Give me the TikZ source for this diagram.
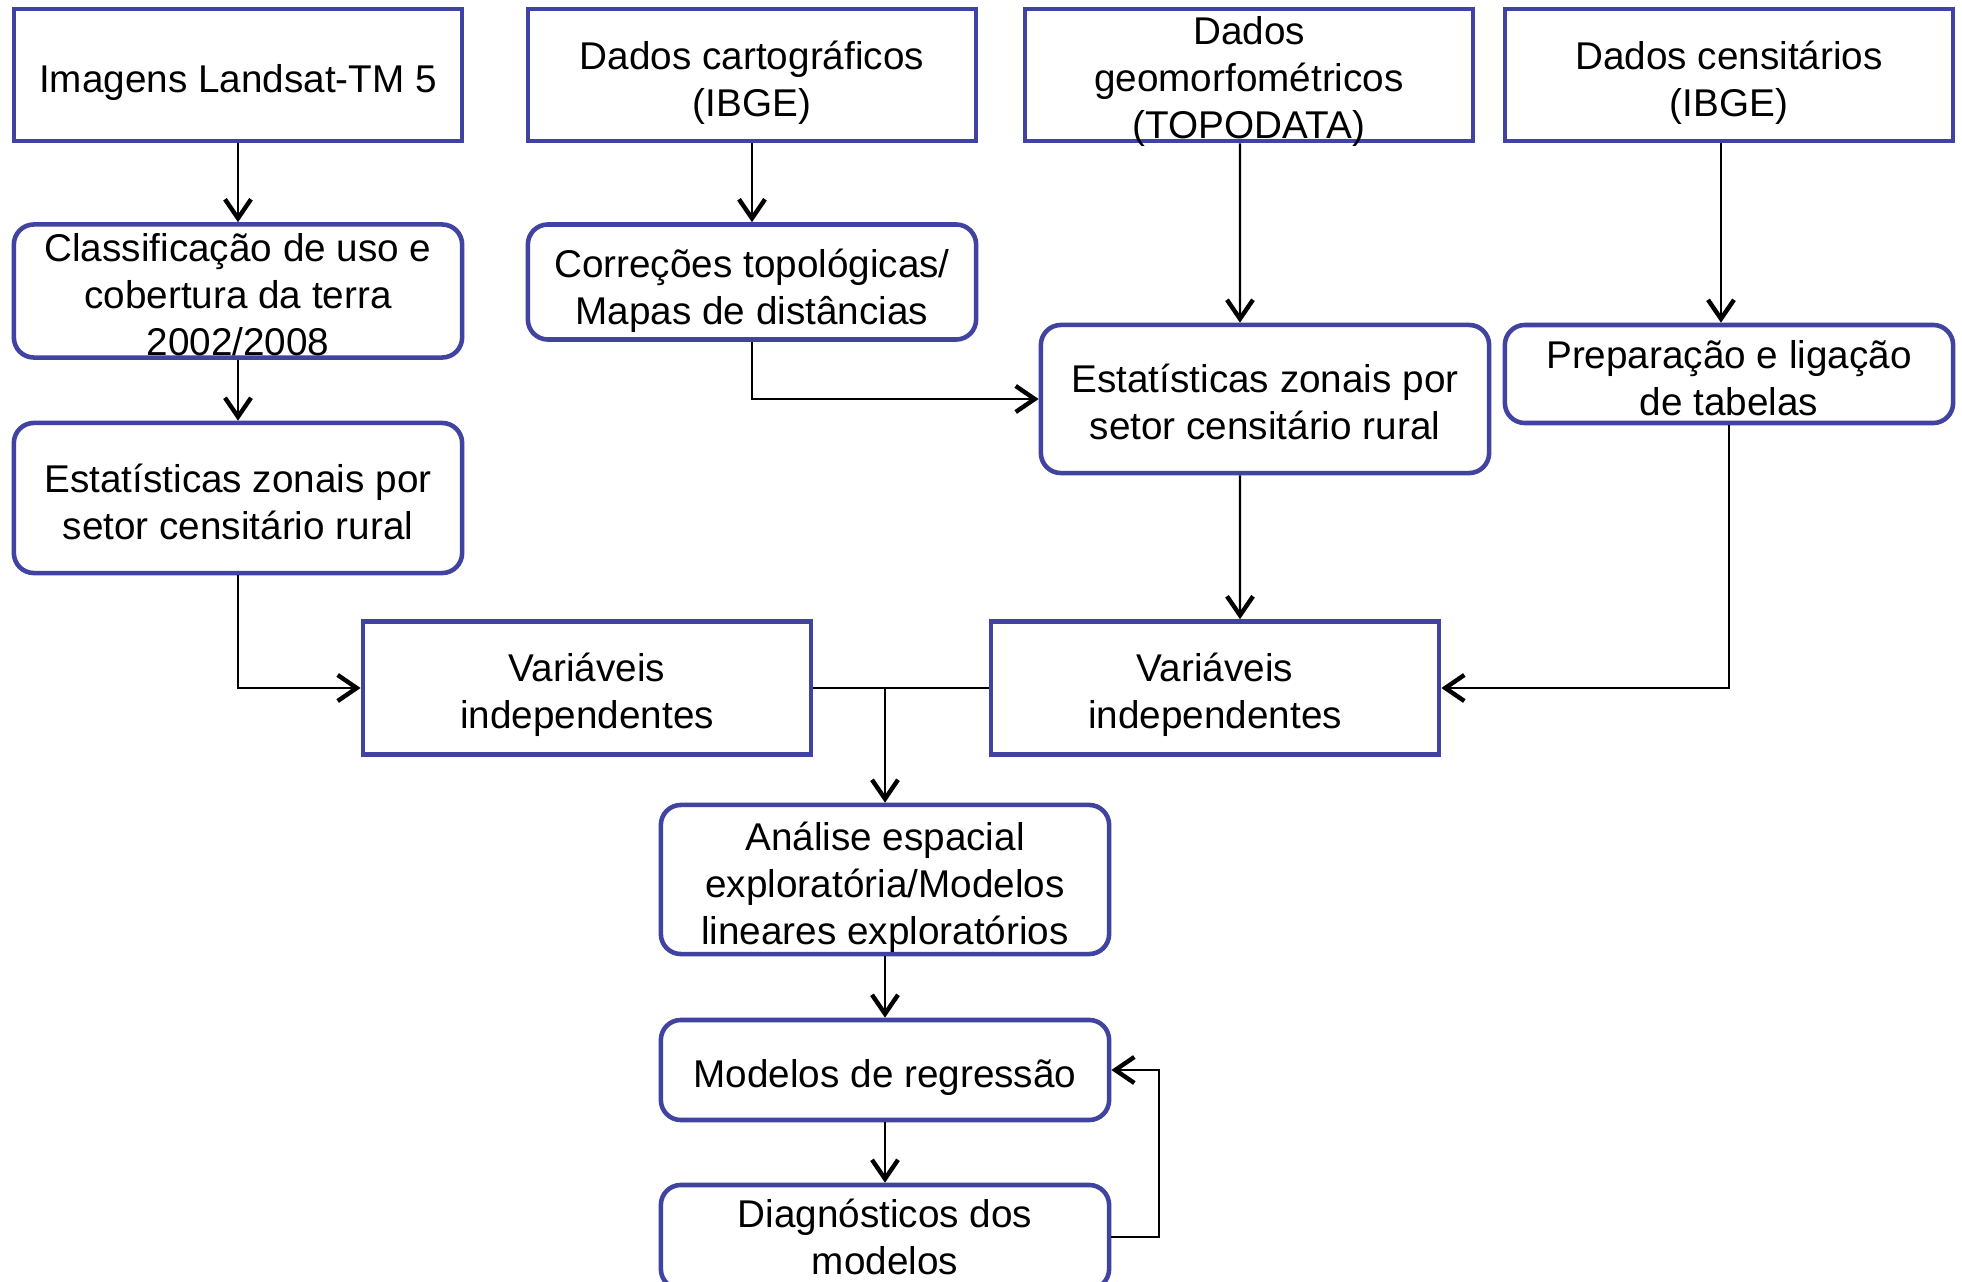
\documentclass[tikz,border=0pt]{standalone}
\usepackage{fontspec}
\setmainfont{Liberation Sans}
\usetikzlibrary{arrows.meta,calc}
\definecolor{bord}{RGB}{64,67,160}
\newcommand\tp[1]{\rule{0pt}{\dimexpr0.73em+#1\relax}}
\begin{document}
\begin{tikzpicture}[x=0.01cm,y=-0.01cm,
 box/.style={draw=bord,line width=1.3pt,inner xsep=0pt,inner ysep=-0.3cm,minimum width=4.48cm,align=center,
   font=\fontsize{11pt}{13.37pt}\selectfont},
 rbox/.style={box,rounded corners=0.2cm},
 arr/.style={line width=0.6pt,-{Straight Barb[length=0.19cm,width=0.26cm,line width=1.25pt]}},
 ln/.style={line width=0.6pt}]
\useasboundingbox (0,0) rectangle (1962,1282);
\clip (0,0) rectangle (1962,1282);
% top row
\node[box,minimum height=1.32cm] (img) at (238,75) {\tp{0.15cm}Imagens Landsat-TM 5};
\node[box,minimum height=1.32cm] (carto) at (752,75) {\tp{0.15cm}Dados cartográficos\\(IBGE)};
\node[box,minimum height=1.32cm] (geo) at (1249,75) {\tp{0.13cm}Dados\\geomorfométricos\\(TOPODATA)};
\node[box,minimum height=1.32cm] (cens) at (1729,75) {\tp{0.15cm}Dados censitários\\(IBGE)};
% second row
\node[rbox,minimum height=1.33cm] (class) at (238,291) {\tp{0.08cm}Classificação de uso e\\cobertura da terra\\2002/2008};
\node[rbox,minimum height=1.15cm] (corr) at (752,282) {\tp{0.17cm}Correções topológicas/\\Mapas de distâncias};
\node[rbox,minimum height=1.48cm] (estR) at (1265,399) {\tp{0.06cm}Estatísticas zonais por\\setor censitário rural};
\node[rbox,minimum height=0.98cm] (prep) at (1729,374) {\tp{0.08cm}Preparação e ligação\\de tabelas};
\node[rbox,minimum height=1.50cm] (estL) at (238,498) {\tp{0.08cm}Estatísticas zonais por\\setor censitário rural};
% variables
\node[box,minimum height=1.33cm] (varL) at (587,688) {\tp{0.13cm}Variáveis\\independentes};
\node[box,minimum height=1.33cm] (varR) at (1215,688) {\tp{0.13cm}Variáveis\\independentes};
% bottom column
\node[rbox,minimum height=1.49cm] (anal) at (885,879.5) {\tp{0.15cm}Análise espacial\\exploratória/Modelos\\lineares exploratórios};
\node[rbox,minimum height=1.00cm] (mod) at (885,1070) {\tp{0.15cm}Modelos de regressão};
\node[rbox,minimum height=1.04cm] (diag) at (885,1237) {Diagnósticos dos\\modelos};
% connectors
\draw[arr] (img.south) -- (class.north);
\draw[arr] (class.south) -- (estL.north);
\draw[arr] (carto.south) -- (corr.north);
\draw[arr] (corr.south) |- (estR.west);
\draw[arr] ([xshift=-0.09cm]geo.south) -- ([xshift=-0.25cm]estR.north);
\draw[arr] ([xshift=-0.25cm]estR.south) -- ([xshift=0.25cm]varR.north);
\draw[arr] ([xshift=-0.08cm]cens.south) -- ([xshift=-0.08cm]prep.north);
\draw[arr] (prep.south) |- (varR.east);
\draw[arr] (estL.south) |- (varL.west);
\coordinate (junc) at (anal.north |- varL.east);
\draw[ln] (varL.east) -- (varR.west);
\draw[arr] (junc) -- (anal.north);
\draw[arr] (anal.south) -- (mod.north);
\draw[arr] (mod.south) -- (diag.north);
\draw[arr] (diag.east) -- ++(48,0) |- (mod.east);
\end{tikzpicture}
\end{document}
